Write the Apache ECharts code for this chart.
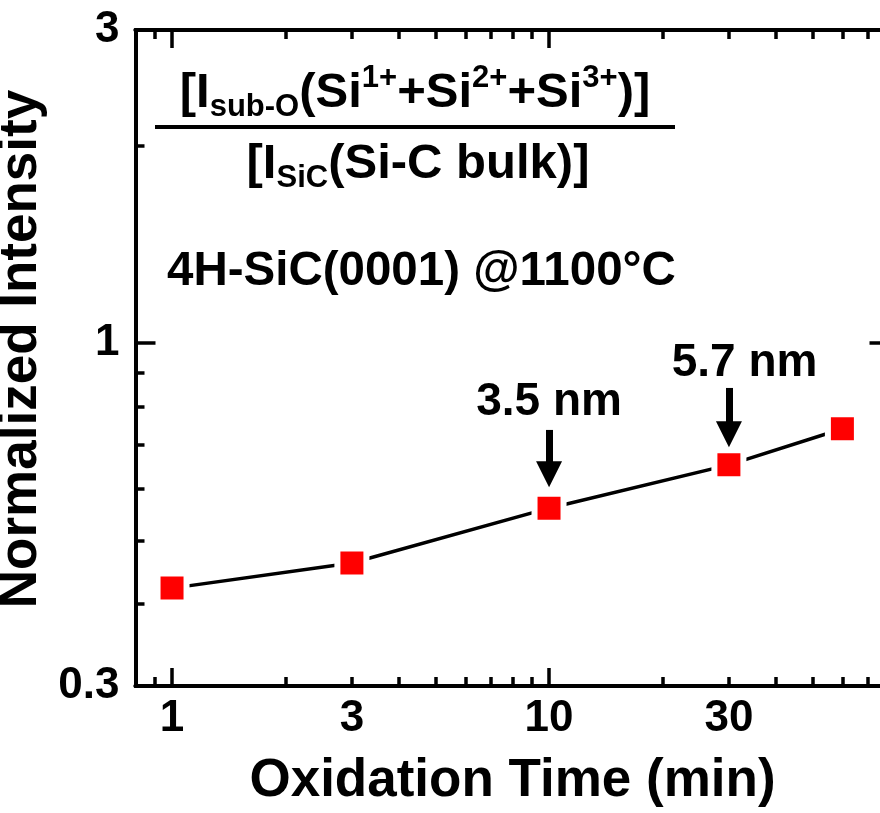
<!DOCTYPE html>
<html>
<head>
<meta charset="utf-8">
<title>Normalized Intensity vs Oxidation Time</title>
<script src="https://cdn.jsdelivr.net/npm/echarts@6.0.0/dist/echarts.min.js"></script>
<style>
  html, body { margin: 0; padding: 0; background: #fff; }
  #chart { width: 880px; height: 813px; }
</style>
</head>
<body>
<div id="chart"></div>
<script>
// oxidation time (min) / normalized intensity
const times = [1, 3, 10, 30, 60];
const intensity = [0.423, 0.462, 0.560, 0.652, 0.740];

// tick values
const xLabelTicks = [1, 3, 10, 30];
const xMajorTicks = [1, 10];
const xMinorTicks = [0.9, 2, 3, 4, 5, 6, 7, 8, 9, 20, 30, 40, 50, 60, 70];
const yLabelTicks = [0.3, 1, 3];
const yMajorTicks = [1];
const yMinorTicks = [0.4, 0.5, 0.6, 0.7, 0.8, 0.9, 2];

// oxide thickness notes
const thickLabels = ['3.5 nm', '5.7 nm'];

const FONT = '"Liberation Sans", Arial, sans-serif';

// one log axis, ticks only (labels are switched on for the main ones)
function logAxis(position, min, max, ticks, len, extra) {
  return Object.assign({
    type: 'log',
    logBase: 10,
    position: position,
    min: min,
    max: max,
    axisLine: { show: true, onZero: false, lineStyle: { color: '#000', width: 4 } },
    axisTick: { show: true, inside: true, length: len, customValues: ticks,
      lineStyle: { color: '#000', width: 3.5 } },
    axisLabel: { show: false },
    splitLine: { show: false },
    minorTick: { show: false },
    minorSplitLine: { show: false }
  }, extra || {});
}

const labelStyle = { show: true, color: '#000', fontSize: 44, fontWeight: 'bold', fontFamily: FONT };
const nameStyle = { color: '#000', fontSize: 53, fontWeight: 'bold', fontFamily: FONT };

const rich = {
  sub: { fontSize: 31, fontWeight: 'bold', fontFamily: FONT, lineHeight: 34, verticalAlign: 'bottom', fill: '#000' },
  sup: { fontSize: 31, fontWeight: 'bold', fontFamily: FONT, lineHeight: 33, verticalAlign: 'top', fill: '#000' }
};

const chart = echarts.init(document.getElementById('chart'));
chart.setOption({
  animation: false,
  backgroundColor: '#fff',
  grid: { left: 135.5, top: 30, width: 754, height: 656, containLabel: false, outerBoundsMode: 'none' },
  xAxis: [
    logAxis('bottom', 0.8, 80, xMajorTicks, 18, {
      axisLabel: Object.assign({ customValues: xLabelTicks, margin: 11 }, labelStyle),
      name: 'Oxidation Time (min)',
      nameLocation: 'middle',
      nameGap: 69,
      nameTextStyle: nameStyle
    }),
    logAxis('bottom', 0.8, 80, xMinorTicks, 9),
    logAxis('top', 0.8, 80, xMajorTicks, 18),
    logAxis('top', 0.8, 80, xMinorTicks, 9)
  ],
  yAxis: [
    logAxis('left', 0.3, 3, yMajorTicks, 20, {
      axisLabel: Object.assign({ customValues: yLabelTicks, margin: 16 }, labelStyle),
      name: 'Normalized Intensity',
      nameLocation: 'middle',
      nameGap: 75,
      nameTextStyle: Object.assign({ padding: [0, 0, 0, 18] }, nameStyle)
    }),
    logAxis('left', 0.3, 3, yMinorTicks, 9),
    logAxis('right', 0.3, 3, yMajorTicks, 20),
    logAxis('right', 0.3, 3, yMinorTicks, 9)
  ],
  series: [{
    type: 'line',
    xAxisIndex: 0,
    yAxisIndex: 0,
    data: times.map((t, i) => [t, intensity[i]]),
    symbol: 'rect',
    symbolSize: 29,
    itemStyle: { color: '#ff0000', borderColor: '#fff', borderWidth: 6 },
    lineStyle: { color: '#000', width: 3.5 },
    emphasis: { disabled: true },
    markLine: {
      silent: true,
      symbol: ['none', 'triangle'],
      symbolSize: 26,
      itemStyle: { color: '#000', borderWidth: 0 },
      lineStyle: { color: '#000', width: 7, type: 'solid', opacity: 1 },
      label: { show: false },
      emphasis: { disabled: true },
      data: [
        [{ coord: [10, 0.737] }, { coord: [10, 0.631] }],
        [{ coord: [30, 0.854] }, { coord: [30, 0.726] }]
      ]
    },
    markPoint: {
      silent: true,
      symbol: 'rect',
      symbolSize: 0,
      label: { show: true, position: 'inside', formatter: '{b}', color: '#000',
        fontSize: 46, fontWeight: 'bold', fontFamily: FONT },
      data: [
        { name: thickLabels[0], coord: [10, 0.813] },
        { name: thickLabels[1], coord: [33, 0.932] }
      ]
    }
  }],
  graphic: [
    {
      type: 'text', x: 415, y: 93, silent: true,
      style: {
        text: '[I{sub|sub-O}(Si{sup|1+}+Si{sup|2+}+Si{sup|3+})]',
        rich: rich, fill: '#000', fontSize: 49, fontWeight: 'bold', fontFamily: FONT,
        lineHeight: 60, align: 'center', verticalAlign: 'middle'
      }
    },
    {
      type: 'line', silent: true,
      shape: { x1: 155, y1: 127, x2: 675, y2: 127 },
      style: { stroke: '#000', lineWidth: 4 }
    },
    {
      type: 'text', x: 418, y: 164, silent: true,
      style: {
        text: '[I{sub|SiC}(Si-C bulk)]',
        rich: rich, fill: '#000', fontSize: 49, fontWeight: 'bold', fontFamily: FONT,
        lineHeight: 60, align: 'center', verticalAlign: 'middle'
      }
    },
    {
      type: 'text', x: 167, y: 272, silent: true,
      style: {
        text: '4H-SiC(0001) @1100°C',
        fill: '#000', fontSize: 47.5, fontWeight: 'bold', fontFamily: FONT,
        align: 'left', verticalAlign: 'middle'
      }
    }
  ]
});
</script>
</body>
</html>
